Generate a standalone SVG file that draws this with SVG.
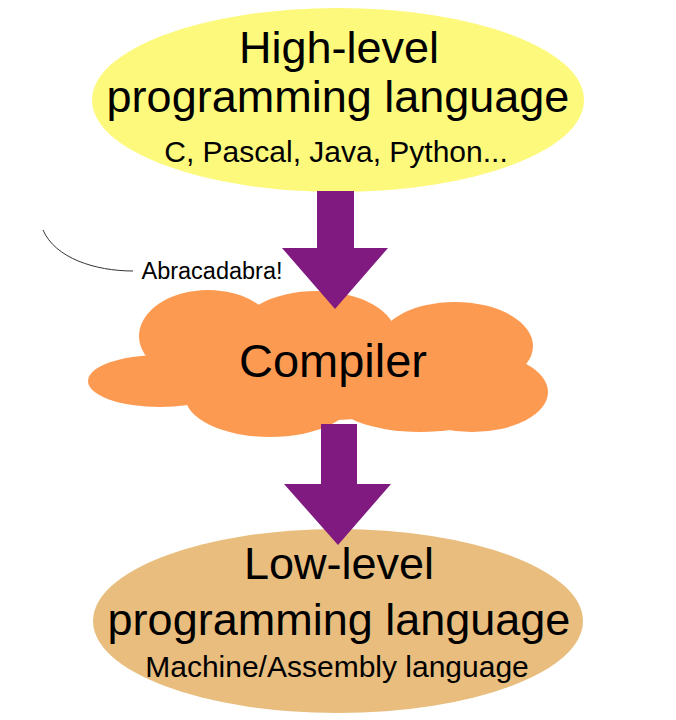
<svg xmlns="http://www.w3.org/2000/svg" width="676" height="720" viewBox="0 0 676 720">
<style>
text{font-family:"Liberation Sans",Arial,sans-serif;fill:#000;text-anchor:middle}
.big{font-size:45px}
.sub{font-size:30px}
.arrow{fill:#801a80}
.cloud{fill:#fd9a52}
</style>
<rect width="676" height="720" fill="#fff"/>
<g id="low-level">
<ellipse cx="338" cy="621" rx="245" ry="92" fill="#e8bd7d"/>
<text class="big" x="339" y="579">Low-level</text>
<text class="big" x="339" y="635">programming language</text>
<text class="sub" x="337" y="677">Machine/Assembly language</text>
</g>
<g id="compiler">
<g class="cloud">
<ellipse cx="160" cy="381" rx="72" ry="26"/>
<ellipse cx="208" cy="336" rx="69" ry="46"/>
<ellipse cx="316" cy="336" rx="80" ry="45"/>
<ellipse cx="455" cy="346" rx="78" ry="44"/>
<ellipse cx="472" cy="392" rx="76" ry="40"/>
<ellipse cx="270" cy="396" rx="85" ry="41"/>
<ellipse cx="420" cy="395" rx="90" ry="37"/>
<ellipse cx="330" cy="370" rx="130" ry="50"/>
</g>
<text x="333" y="377" style="font-size:47px">Compiler</text>
</g>
<g id="high-level">
<ellipse cx="338" cy="100" rx="246" ry="92" fill="#fcf97c"/>
<text class="big" x="339" y="63">High-level</text>
<text class="big" x="338" y="112">programming language</text>
<text class="sub" x="336" y="162">C, Pascal, Java, Python...</text>
</g>
<g id="abracadabra">
<path d="M43,230 C55,258 95,271 133,271" fill="none" stroke="#333" stroke-width="1"/>
<text x="212" y="279" style="font-size:23.5px">Abracadabra!</text>
</g>
<g id="connectors">
<polygon class="arrow" points="317,191 354,191 354,248 388,248 335,309 282,248 317,248"/>
<polygon class="arrow" points="321,424 357,424 357,484 391,484 338,545 284,484 321,484"/>
</g>
</svg>
